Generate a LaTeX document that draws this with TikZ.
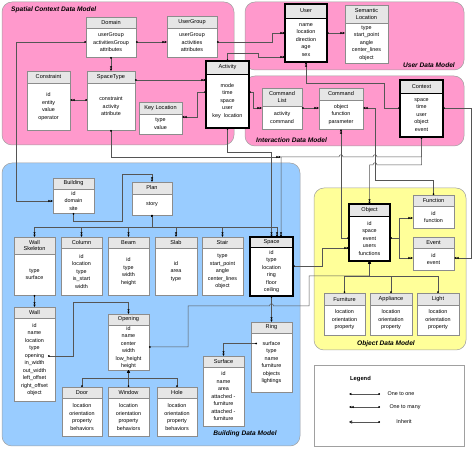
\documentclass[tikz,border=0pt]{standalone}
\usepackage{fontspec}
\setmainfont{Liberation Sans}
\usetikzlibrary{arrows.meta,fit}
\definecolor{pinkr}{RGB}{255,153,204}
\definecolor{bluer}{RGB}{153,204,255}
\definecolor{yellowr}{RGB}{255,255,153}
\definecolor{hdrgrey}{RGB}{230,230,230}
\definecolor{boxline}{RGB}{140,140,140}
\definecolor{conn}{RGB}{85,85,85}
\definecolor{regline}{RGB}{160,160,160}
\tikzset{
  region/.style={draw=regline, line width=0.5pt, rounded corners=10pt},
  uframe/.style={draw=boxline, line width=0.6pt, inner sep=0pt, outer sep=0pt},
  uthick/.style={draw=black, line width=1.3pt},
  fieldtxt/.style={font=\fontsize{5.4}{7.5}\selectfont, align=center, inner sep=0pt},
  titletxt/.style={font=\fontsize{5.6}{6.4}\selectfont, align=center, inner sep=0pt},
  regtitle/.style={font=\fontsize{6.6}{8}\selectfont\bfseries\itshape, inner sep=0pt},
  conline/.style={draw=conn, line width=0.5pt},
  one2many/.style={conline, {Circle[length=1.7pt,color=black]}-{Latex[length=2.3pt,width=2.3pt,color=black] Latex[length=2.3pt,width=2.3pt,color=black]}},
  one2one/.style={conline, {Circle[length=1.7pt,color=black]}-{Latex[length=2.3pt,width=2.3pt,color=black]}},
  inherit/.style={conline, {Circle[length=1.7pt,color=black]}-{Triangle[open,length=3pt,width=3pt,color=black]}},
}
% #1 style, #2 name, #3 x1, #4 y1, #5 x2, #6 y2, #7 header bottom, #8 title, #9 fields
\newcommand\ubox[9][]{%
  \fill[white] (#3,#4) rectangle (#5,#6);
  \fill[hdrgrey] (#3,#4) rectangle (#5,#7);
  \draw[uframe,#1,line width=0.6pt] (#3,#7) -- (#5,#7);
  \node[uframe,#1,fit={(#3,#4) (#5,#6)}] (#2) {};
  \node[titletxt] (#2t) at ({(#3+#5)/2},{(#4+#7)/2}) {#8};
  \node[fieldtxt] (#2f) at ({(#3+#5)/2},{(#7+#6)/2}) {#9};
}
\begin{document}
\begin{tikzpicture}[x=1pt,y=-1pt]
\useasboundingbox (0,0) rectangle (472,449);
\fill[white] (0,0) rectangle (472,449);
% regions
\path[region, fill=pinkr] (2,2) rectangle (234,145);
\path[region, fill=pinkr] (245,2) rectangle (464,70);
\path[region, fill=pinkr] (245,76) rectangle (464,146);
\path[region, fill=bluer] (2,163) rectangle (300,446);
\path[region, fill=yellowr] (314,188) rectangle (466,350);
\node[regtitle, anchor=west] (t1) at (11,10) {Spatial Context Data Model};
\node[regtitle, anchor=east] (t2) at (455,65) {User Data Model};
\node[regtitle, anchor=west] (t3) at (256,140) {Interaction Data Model};
\node[regtitle] (t4) at (245,434) {Building Data Model};
\node[regtitle] (t5) at (386,344) {Object Data Model};
% spatial context
\ubox{domain}{86}{17}{136}{57}{28}{Domain}{userGroup\\activitiesGroup\\attributes}
\ubox{usergroup}{167}{16}{217}{57}{28}{UserGroup}{userGroup\\activities\\attributes}
\ubox{constraint}{27}{71}{70}{130}{83}{Constraint}{id\\entity\\value\\operator}
\ubox{spacetype}{87}{71}{135}{130}{83}{SpaceType}{constraint\\activity\\attribute}
\ubox{keyloc}{139}{102}{182}{134}{114}{Key Location}{type\\value}
\ubox[uthick]{activity}{206}{61}{249}{128}{74}{Activity}{mode\\time\\space\\user\\key~~location}
% user
\ubox[uthick]{user}{285}{4}{327}{62}{18}{User}{name\\location\\direction\\age\\sex}
\ubox{semloc}{345}{5}{388}{63}{23}{Semantic\\Location}{type\\start\_point\\angle\\center\_lines\\object}
% interaction
\ubox{cmdlist}{262}{88}{302}{129}{106}{Command\\List}{activity\\command}
\ubox{command}{319}{88}{363}{129}{100}{Command}{object\\function\\parameter}
\ubox[uthick]{context}{400}{80}{443}{137}{93}{Context}{space\\time\\user\\object\\event}
% building
\ubox{building}{53}{178}{94}{213}{189}{Building}{id\\domain\\site}
\ubox{plan}{132}{182}{172}{215}{194}{Plan}{story}
\ubox{wallsk}{14}{237}{55}{295}{254}{Wall\\Skeleton}{type\\surface}
\ubox{column}{61}{237}{102}{295}{248}{Column}{id\\location\\type\\is\_start\\width}
\ubox{beam}{108}{237}{149}{295}{248}{Beam}{id\\type\\width\\height}
\ubox{slab}{155}{237}{197}{295}{248}{Slab}{id\\area\\type}
\ubox{stair}{202}{237}{243}{295}{248}{Stair}{type\\start\_point\\angle\\center\_lines\\object}
\ubox[uthick]{space}{250}{237}{293}{296}{247}{Space}{id\\type\\location\\ring\\floor\\ceiling}
\ubox{wall}{14}{307}{55}{401}{318}{Wall}{id\\name\\location\\type\\opening\\in\_width\\out\_width\\left\_offset\\right\_offset\\object}
\ubox{opening}{108}{314}{149}{370}{325}{Opening}{id\\name\\center\\width\\low\_height\\height}
\ubox{door}{62}{387}{102}{436}{398}{Door}{location\\orientation\\property\\behaviors}
\ubox{window}{108}{387}{149}{436}{398}{Window}{location\\orientation\\property\\behaviors}
\ubox{hole}{157}{387}{197}{436}{398}{Hole}{location\\orientation\\property\\behaviors}
\ubox{ring}{251}{322}{292}{392}{333}{Ring}{surface\\type\\name\\furniture\\objects\\lightings}
\ubox{surface}{203}{356}{244}{426}{367}{Surface}{id\\name\\area\\attached -\\furniture\\attached -\\furniture}
% object
\ubox[uthick]{object}{349}{204}{390}{261}{216}{Object}{id\\space\\event\\users\\functions}
\ubox{function}{413}{195}{454}{228}{206}{Function}{id\\function}
\ubox{event}{413}{237}{454}{270}{248}{Event}{id\\event}
\ubox{furniture}{324}{293}{365}{335}{305}{Furniture}{location\\orientation\\property}
\ubox{appliance}{370}{293}{412}{335}{305}{Appliance}{location\\orientation\\property}
\ubox{light}{417}{293}{459}{335}{305}{Light}{location\\orientation\\property}
% field anchors
\coordinate (wallop) at (48,356);
\coordinate (ringsf) at (257,343.5);
% connectors: spatial
\draw[one2many] (domain.south) -- (spacetype.north);
\draw[one2many] (domain.west |- 0,42) -| (16,201) -- (building.west |- 0,201);
\draw[one2many] (domain.east |- 0,42) -- (usergroup.west |- 0,42);
\draw[one2many] (usergroup.east |- 0,42) -| (272,33) -- (user.west |- 0,33);
\draw[one2many] (activity.north) |- (258,53) |- (user.west |- 0,57);
\draw[one2many] (spacetype.east |- 0,80) -- (activity.west |- 0,80);
\draw[one2many] (spacetype.west |- 0,100) -- (constraint.east |- 0,100);
\draw[one2many] (activity.west |- 0,92) -| (197,117) -- (keyloc.east |- 0,117);
% user / interaction
\draw[one2many] (user.east |- 0,33) -- (semloc.west |- 0,33);
\draw[one2many] (activity.east |- 0,92) -| (253,108) -- (cmdlist.west |- 0,108);
\draw[one2many] (cmdlist.east |- 0,108) -- (command.west |- 0,108);
\draw[one2many] (context.west |- 0,108) -| (384,83) -| (user.south);
\draw[one2many] (function.north) |- (375,180) |- (command.east |- 0,108);
\draw[one2many] (object.west |- 0,238) -| (command.south);
\draw[one2many] (context.south) |- (377,165) .. controls (377,162) and (373,162) .. (373,165) -| (object.north);
\draw[one2many] (context.south) |- (377,157) .. controls (377,154) and (373,154) .. (373,157) -- (343,157) .. controls (343,154) and (339,154) .. (339,157) -| (space.north -| 281,0);
\draw[one2many] (context.east |- 0,108) -| (471,258) -- (event.east |- 0,258);
% to space
\draw[one2many] (spacetype.south) |- (281,157);
\draw[one2many] (activity.south) |- (271.5,152) -- (space.north);
% building
\draw[one2many] (building.south) |- (122,221) |- (plan.north |- 0,174) -- (plan.north);
\draw[one2many] (plan.south) -- (plan.south |- 0,227) -| (wallsk.north);
\draw[one2many] (plan.south) -- (plan.south |- 0,227) -| (column.north);
\draw[one2many] (plan.south) -- (plan.south |- 0,227) -| (beam.north);
\draw[one2many] (plan.south) -- (plan.south |- 0,227) -| (slab.north);
\draw[one2many] (plan.south) -- (plan.south |- 0,227) -| (stair.north);
\draw[one2many] (plan.south) -- (plan.south |- 0,227) -| (space.north -| 277,0);
\draw[one2many] (wallsk.south) -- (wall.north);
\draw[one2many] (wallop) -| (73,302) -| (opening.north);
\draw[inherit] (door.north) |- (opening.south |- 0,378) -- (opening.south);
\draw[inherit] (window.north) -- (opening.south);
\draw[inherit] (hole.north) |- (opening.south |- 0,378) -- (opening.south);
\draw[one2many] (space.south) -- (ring.north);
\draw[one2many] (ringsf) -| (surface.north);
\draw[one2many] (space.east |- 0,266) -| (322,248) -- (object.west |- 0,248);
\draw[inherit] (opening.east |- 0,347) -| (188,306) -- (269.5,306) .. controls (269.5,303) and (273.5,303) .. (273.5,306) -- (309,306) |- (object.south |- 0,276) -- (object.south);
% object
\draw[one2many] (object.east |- 0,238) -| (399,218) -- (function.west |- 0,218);
\draw[one2many] (object.east |- 0,238) -| (399,258) -- (event.west |- 0,258);
\draw[inherit] (furniture.north) |- (object.south |- 0,276) -- (object.south);
\draw[inherit] (appliance.north) |- (object.south |- 0,276) -- (object.south);
\draw[inherit] (light.north) |- (object.south |- 0,276) -- (object.south);
% legend
\node[draw=regline, line width=0.5pt, fill=white, inner sep=0pt, fit={(314,365) (464,446)}] (legend) {};
\node[font=\fontsize{5.8}{7}\selectfont\bfseries, anchor=west, inner sep=0pt] (legendt) at (350,379) {Legend};
\coordinate (lga1) at (349,394); \coordinate (lgb1) at (380,394);
\coordinate (lga2) at (349,407); \coordinate (lgb2) at (380,407);
\coordinate (lga3) at (349,422); \coordinate (lgb3) at (380,422);
\draw[one2one] (lgb1) -- (lga1);
\draw[one2many] (lgb2) -- (lga2);
\draw[inherit] (lgb3) -- (lga3);
\node[fieldtxt] (lgt1) at (401,394) {One to one};
\node[fieldtxt] (lgt2) at (405,407) {One to many};
\node[fieldtxt] (lgt3) at (404,422) {Inherit};
\end{tikzpicture}
\end{document}
